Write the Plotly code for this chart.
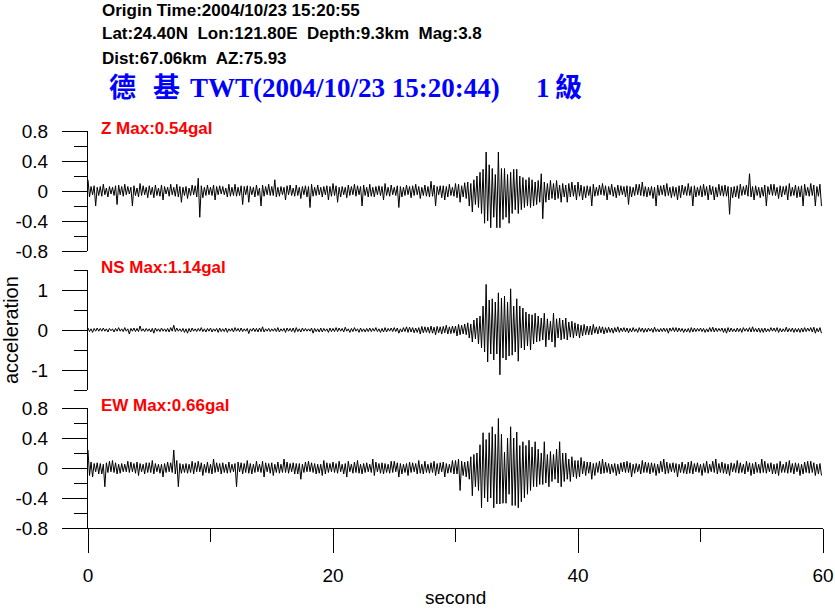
import plotly.graph_objects as go

# ---- data: 8 samples per second, values in 0.01 gal ----
SAMPLES_PER_S = 8
time_s = [i / SAMPLES_PER_S for i in range(480)]

z_cgal = [
    15,-8,6,-5,7,-20,5,-6, 6,-7,9,-5,4,-8,6,-4, 5,-6,7,-18,8,-5,6,-7, 9,-5,6,-4,5,-20,7,-6,
    4,-8,10,-6,7,-5,5,-9, 7,-5,5,-9,8,-6,4,-7, 8,-12,6,-4,5,-7,9,-5, 5,-7,9,-8,6,-15,5,-6,
    6,-10,4,-6,8,-5,7,-8, 17,-35,7,-9,5,-6,8,-5, 5,-6,8,-12,6,-5,7,-4, 6,-5,4,-8,9,-7,5,-6,
    9,-7,5,-6,7,-18,6,-5, 7,-15,6,-5,5,-8,8,-6, 4,-20,8,-7,6,-5,9,-6, 6,-6,15,-8,5,-7,6,-5,
    5,-12,7,-5,8,-6,4,-7, 8,-6,5,-10,6,-5,7,-8, 6,-22,9,-7,5,-6,8,-5, 5,-8,6,-5,7,-12,6,-7,
    10,-6,7,-15,5,-8,6,-5, 5,-9,8,-6,6,-5,9,-7, 7,-5,6,-20,8,-6,5,-8, 9,-7,5,-8,6,-5,7,-6,
    6,-12,10,-6,5,-7,8,-5, 5,-6,7,-22,6,-8,5,-6, 8,-5,6,-9,7,-6,9,-5, 6,-10,5,-6,8,-7,6,-8,
    13,-7,8,-20,6,-5,7,-9, 7,-12,6,-8,9,-6,5,-7, 10,-9,9,-15,7,-8,11,-10, 12,-20,10,-28,15,-18,20,-22,
    25,-30,29,-43,52,-40,35,-49, 30,-35,22,-49,52,-49,30,-38, 30,-35,22,-43,25,-30,29,-25, 29,-30,20,-25,18,-22,15,-20,
    18,-22,15,-20,12,-18,14,-15, 23,-37,12,-15,10,-12,14,-10, 10,-12,14,-10,8,-15,10,-8, 8,-15,10,-8,12,-7,8,-12,
    12,-7,8,-12,6,-9,7,-6, 6,-20,9,-7,5,-6,8,-5, 10,-6,7,-12,6,-5,9,-7, 5,-9,8,-6,7,-5,6,-8,
    7,-18,6,-8,5,-6,9,-5, 9,-6,12,-7,6,-8,5,-6, 6,-10,5,-20,8,-6,7,-5, 8,-7,10,-6,5,-9,6,-7,
    5,-12,7,-9,8,-5,6,-6, 10,-6,6,-20,7,-8,5,-6, 7,-8,9,-6,6,-12,8,-5, 6,-12,5,-8,9,-6,7,-7,
    8,-7,6,-31,5,-9,6,-8, 7,-10,9,-6,6,-5,8,-7, 23,-8,6,-12,7,-6,5,-9, 5,-7,8,-20,6,-5,9,-6,
    9,-6,5,-10,7,-8,6,-5, 7,-12,10,-7,5,-6,8,-9, 6,-8,7,-20,9,-6,5,-7, 10,-6,8,-20,6,-7,9,-20,
]

ns_cgal = [
    5,-4,3,-6,4,-3,5,-3, 4,-3,5,-3,3,-5,4,-2, 3,-5,4,-3,6,-3,3,-4, 6,-3,3,-10,4,-3,5,-4,
    4,-4,10,-3,3,-4,4,-3, 3,-5,4,-8,5,-3,3,-4, 5,-3,3,-4,4,-5,6,-3, 12,-4,5,-3,3,-4,4,-6,
    3,-8,4,-5,5,-3,3,-4, 4,-3,6,-4,3,-5,4,-3, 5,-5,3,-3,4,-6,5,-4, 3,-4,5,-6,3,-3,4,-5,
    6,-3,4,-4,5,-4,3,-3, 4,-9,3,-3,5,-4,4,-5, 5,-4,8,-5,3,-3,4,-4, 3,-3,4,-4,6,-5,3,-3,
    4,-6,5,-3,4,-4,5,-6, 6,-4,3,-5,5,-3,4,-3, 3,-3,5,-8,4,-4,3,-5, 5,-5,4,-3,3,-6,5,-4,
    4,-4,6,-4,5,-3,4,-5, 7,-3,3,-6,4,-4,6,-3, 3,-6,5,-4,3,-5,4,-4, 5,-4,4,-3,6,-4,3,-6,
    4,-5,6,-5,4,-3,5,-4, 6,-4,5,-8,3,-5,6,-4, 8,-6,7,-5,6,-7,5,-6, 6,-10,9,-7,8,-6,7,-8,
    10,-8,7,-12,9,-7,8,-10, 9,-7,12,-10,8,-9,10,-8, 10,-15,14,-12,12,-10,15,-12, 18,-20,15,-30,25,-22,30,-35,
    35,-45,60,-55,114,-80,75,-60, 78,-75,70,-60,93,-112,80,-70, 85,-75,70,-65,103,-63,60,-55, 78,-78,60,-45,55,-50,45,-40,
    40,-50,38,-35,42,-30,35,-28, 30,-25,42,-42,28,-25,22,-30, 42,-43,28,-20,30,-25,25,-22, 30,-25,20,-18,22,-20,18,-15,
    15,-20,12,-15,14,-12,10,-12, 10,-12,14,-8,8,-10,9,-7, 8,-10,6,-7,7,-6,5,-8, 6,-5,8,-6,5,-4,6,-5,
    5,-7,4,-5,6,-4,3,-6, 6,-4,5,-6,4,-5,5,-3, 4,-6,7,-4,3,-5,4,-4, 5,-4,4,-8,5,-3,6,-4,
    6,-5,5,-4,4,-6,3,-5, 4,-6,6,-5,5,-4,4,-3, 5,-4,4,-6,3,-5,6,-4, 7,-5,5,-4,4,-3,5,-6,
    4,-8,6,-5,5,-4,3,-5, 5,-4,4,-6,6,-3,4,-4, 6,-5,8,-4,4,-5,5,-6, 4,-6,5,-5,3,-4,6,-3,
    5,-4,6,-6,4,-5,3,-4, 7,-5,4,-4,5,-6,4,-5, 4,-6,5,-5,6,-4,5,-3, 6,-5,7,-8,4,-5,6,-8,
]

ew_cgal = [
    24,-10,8,-12,6,-5,7,-8, 6,-8,5,-25,7,-6,9,-5, 10,-6,7,-8,5,-7,6,-5, 5,-5,9,-6,8,-5,6,-7,
    8,-10,6,-5,5,-8,7,-6, 7,-6,10,-8,6,-5,5,-7, 5,-12,6,-6,8,-5,7,-6, 24,-8,10,-25,6,-7,5,-6,
    6,-7,5,-6,9,-8,7,-5, 9,-5,7,-10,5,-6,8,-7, 5,-8,12,-6,7,-5,6,-8, 7,-6,5,-7,8,-6,5,-5,
    6,-25,8,-5,7,-8,6,-6, 10,-7,6,-8,5,-6,9,-5, 5,-6,9,-12,7,-5,6,-7, 7,-10,5,-6,8,-7,5,-6,
    12,-6,8,-7,6,-5,7,-8, 6,-8,6,-15,5,-6,8,-5, 9,-5,7,-6,6,-8,5,-7, 5,-10,10,-8,7,-6,6,-5,
    8,-6,6,-7,9,-5,5,-8, 6,-12,9,-5,5,-7,8,-6, 10,-7,5,-8,6,-6,7,-5, 5,-6,12,-10,8,-5,6,-7,
    7,-8,6,-6,5,-7,9,-6, 9,-5,7,-12,6,-8,5,-6, 6,-10,8,-6,7,-5,6,-8, 10,-7,5,-8,9,-6,5,-7,
    7,-6,9,-10,6,-8,7,-5, 8,-12,6,-7,5,-6,10,-8, 10,-8,12,-30,9,-10,8,-12, 9,-15,15,-37,18,-25,20,-30,
    31,-53,47,-40,38,-45,47,-40, 55,-53,45,-48,66,-48,45,-47, 21,-47,40,-35,55,-50,40,-50, 48,-53,30,-45,35,-40,30,-35,
    37,-30,28,-25,35,-25,25,-22, 20,-22,35,-20,18,-25,22,-18, 18,-15,25,-20,35,-25,20,-18, 20,-15,12,-18,15,-12,10,-14,
    10,-12,14,-8,9,-10,8,-7, 8,-15,6,-10,7,-6,9,-8, 12,-7,8,-6,6,-8,5,-6, 6,-10,5,-8,7,-5,8,-6,
    9,-6,7,-12,5,-7,6,-5, 5,-8,10,-6,8,-6,7,-8, 7,-6,6,-10,5,-7,9,-5, 12,-8,8,-7,6,-5,7,-6,
    6,-12,5,-6,8,-7,5,-8, 8,-7,9,-8,6,-5,7,-6, 5,-10,6,-6,9,-7,5,-5, 9,-6,12,-8,6,-6,8,-7,
    6,-8,5,-10,7,-5,6,-6, 10,-7,7,-6,5,-8,9,-5, 7,-10,6,-8,8,-6,5,-7, 12,-6,9,-7,6,-5,7,-8,
    5,-8,6,-10,9,-6,5,-6, 8,-7,10,-6,6,-8,7,-5, 6,-10,5,-8,8,-6,9,-7, 9,-6,7,-10,5,-8,6,-10,
]

# convert 0.01 gal -> gal
z_acc = [v / 100 for v in z_cgal]
ns_acc = [v / 100 for v in ns_cgal]
ew_acc = [v / 100 for v in ew_cgal]

gal_ticks = [-0.8, -0.4, 0, 0.4, 0.8]
gal_labels = ["-0.8", "-0.4", "0", "0.4", "0.8"]
ns_ticks = [-1, 0, 1]
ns_labels = ["-1", "0", "1"]
sec_ticks = [0, 20, 40, 60]
sec_labels = ["0", "20", "40", "60"]

header_lines = [
    "Origin Time:2004/10/23 15:20:55",
    "Lat:24.40N  Lon:121.80E  Depth:9.3km  Mag:3.8",
    "Dist:67.06km  AZ:75.93",
]
station_parts = ["德", "基", "TWT(2004/10/23 15:20:44)", "1", "級"]
channel_labels = ["Z Max:0.54gal", "NS Max:1.14gal", "EW Max:0.66gal"]

# ---- layout geometry ----
W, H = 835, 609
L, R, T, B = 88, 12, 131, 81
PW, PH = W - L - R, H - T - B


def px(x):
    return (x - L) / PW


def py(y):
    return (H - B - y) / PH


SANS = "Liberation Sans, Arial, sans-serif"
TICKFONT = dict(family=SANS, size=19, color="black")

fig = go.Figure()
for acc, ya in [(z_acc, "y"), (ns_acc, "y2"), (ew_acc, "y3")]:
    fig.add_trace(go.Scatter(x=time_s, y=acc, mode="lines", xaxis="x", yaxis=ya,
                             line=dict(color="black", width=1), showlegend=False,
                             hoverinfo="skip"))


def yax(domain, rng, tv, tt, minor_dt):
    return dict(domain=domain, range=rng, anchor="x", tickmode="array",
                tickvals=tv, ticktext=tt, ticks="outside", ticklen=25,
                tickwidth=1, tickcolor="black", showline=True, linecolor="black",
                linewidth=1, showgrid=False, zeroline=False, tickfont=TICKFONT,
                ticklabelstandoff=10, fixedrange=True, automargin=False,
                minor=dict(dtick=minor_dt, tick0=0, ticks="outside", ticklen=13,
                           tickwidth=1, tickcolor="black", showgrid=False))


fig.update_layout(
    width=W, height=H,
    margin=dict(l=L, r=R, t=T, b=B, pad=0),
    paper_bgcolor="white", plot_bgcolor="white",
    showlegend=False,
    xaxis=dict(range=[0, 60], anchor="y3", tickmode="array", tickvals=sec_ticks,
               ticktext=sec_labels, ticks="outside", ticklen=24, tickwidth=1,
               tickcolor="black", showline=True, linecolor="black", linewidth=1,
               showgrid=False, zeroline=False, tickfont=TICKFONT,
               ticklabelstandoff=6, fixedrange=True, automargin=False,
               minor=dict(dtick=10, tick0=0, ticks="outside", ticklen=13,
                          tickwidth=1, tickcolor="black", showgrid=False)),
    yaxis=yax([py(251), py(131)], [-0.8, 0.8], gal_ticks, gal_labels, 0.2),
    yaxis2=yax([py(390), py(270)], [-1.5, 1.5], ns_ticks, ns_labels, 0.5),
    yaxis3=yax([py(528), py(408)], [-0.8, 0.8], gal_ticks, gal_labels, 0.2),
)

ann = []
for text, yc in zip(header_lines, [10, 34, 58]):
    ann.append(dict(text="<b>%s</b>" % text, x=px(100), y=py(yc), xref="paper", yref="paper",
                    xanchor="left", yanchor="middle", showarrow=False,
                    font=dict(family=SANS, size=17, color="black")))

SERIF = "Liberation Serif, Times New Roman, Noto Sans CJK TC, serif"
for text, xl in zip(station_parts, [107, 151, 188, 534, 553]):
    ann.append(dict(text="<b>%s</b>" % text, x=px(xl), y=py(88), xref="paper", yref="paper",
                    xanchor="left", yanchor="middle", showarrow=False,
                    font=dict(family=SERIF, size=27, color="#0000ff")))

for text, yc in zip(channel_labels, [128, 267, 405]):
    ann.append(dict(text="<b>%s</b>" % text, x=px(99), y=py(yc), xref="paper", yref="paper",
                    xanchor="left", yanchor="middle", showarrow=False,
                    font=dict(family=SANS, size=17, color="#ff0000")))

ann.append(dict(text="acceleration", x=px(11), y=py(330), xref="paper", yref="paper",
                xanchor="center", yanchor="middle", showarrow=False, textangle=-90,
                font=dict(family=SANS, size=20, color="black")))
ann.append(dict(text="second", x=px(455), y=py(597), xref="paper", yref="paper",
                xanchor="center", yanchor="middle", showarrow=False,
                font=dict(family=SANS, size=19, color="black")))
fig.update_layout(annotations=ann)

fig.write_html("out.html", config={"displayModeBar": False, "staticPlot": True},
               post_script="document.body.style.margin='0';"
                           "document.documentElement.style.overflow='hidden';")
